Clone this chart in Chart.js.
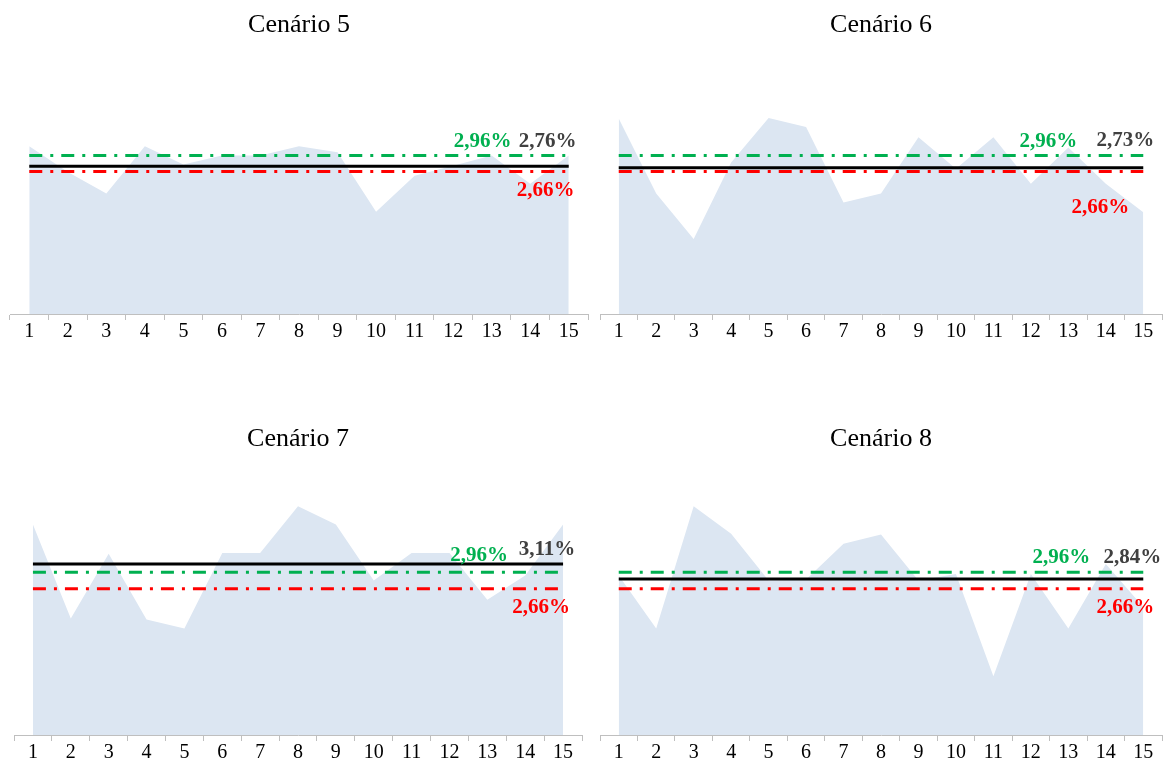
<!DOCTYPE html>
<html>
<head>
<meta charset="utf-8">
<script src="https://cdn.jsdelivr.net/npm/chart.js@4.4.1/dist/chart.umd.min.js"></script>
<style>
  body { margin: 0; background: #fff; width: 1169px; height: 763px; overflow: hidden; }
  .box { position: absolute; }
</style>
</head>
<body>
<div class="box" style="left:0px;top:0px;width:590px;height:344px"><canvas id="c5"></canvas></div>
<div class="box" style="left:590px;top:0px;width:579px;height:344px"><canvas id="c6"></canvas></div>
<div class="box" style="left:0px;top:414px;width:590px;height:351px"><canvas id="c7"></canvas></div>
<div class="box" style="left:590px;top:414px;width:579px;height:351px"><canvas id="c8"></canvas></div>
<script>
// categories (periods)
const periodos = ['1','2','3','4','5','6','7','8','9','10','11','12','13','14','15'];

// series values (%)
const cenario5 = [3.13, 2.65, 2.25, 3.13, 2.79, 2.96, 2.96, 3.13, 3.02, 1.91, 2.58, 2.77, 2.96, 2.43, 2.96];
const cenario6 = [3.65, 2.25, 1.40, 2.83, 3.66, 3.49, 2.08, 2.25, 3.30, 2.71, 3.30, 2.43, 3.11, 2.43, 1.90];
const cenario7 = [3.83, 2.12, 3.30, 2.10, 1.94, 3.31, 3.31, 4.16, 3.83, 2.81, 3.31, 3.31, 2.46, 2.90, 3.83];
const cenario8 = [2.90, 1.94, 4.16, 3.66, 2.81, 2.83, 3.48, 3.65, 2.81, 2.93, 1.07, 2.93, 1.94, 3.11, 2.33];

// reference lines
const meta = 2.96;
const limite = 2.66;
const medias = [2.76, 2.73, 3.11, 2.84];

const titulos = ['Cenário 5', 'Cenário 6', 'Cenário 7', 'Cenário 8'];

function fmt(v) {
  return v.toFixed(2).replace('.', ',') + '%';
}

function constante(v) {
  return periodos.map(function () { return v; });
}

// label offsets (px) from the last point of each line
const rotulos = [
  { meta: [-86, -14], media: [-21, -25], limite: [-23, 19] },
  { meta: [-95, -14], media: [-18, -27], limite: [-43, 36] },
  { meta: [-84, -17], media: [-16, -14], limite: [-22, 19] },
  { meta: [-82, -15], media: [-11, -21], limite: [-18, 19] }
];

const serif = '"Liberation Serif", "Times New Roman", serif';

const labelPlugin = {
  id: 'rotulos',
  afterDatasetsDraw(chart, args, opts) {
    const ctx = chart.ctx;
    const x = chart.scales.x;
    const y = chart.scales.y;
    const lastX = x.getPixelForValue(periodos.length - 1);
    ctx.save();
    ctx.font = 'bold 21px ' + serif;
    ctx.textAlign = 'center';
    ctx.textBaseline = 'middle';
    const itens = [
      [meta, '#00b050', opts.off.meta],
      [opts.media, '#404040', opts.off.media],
      [limite, '#ff0000', opts.off.limite]
    ];
    itens.forEach(function (it) {
      ctx.fillStyle = it[1];
      ctx.fillText(fmt(it[0]), lastX + it[2][0], y.getPixelForValue(it[0]) + it[2][1]);
    });
    ctx.restore();
  }
};

function desenha(id, serie, idx, pad) {
  new Chart(document.getElementById(id), {
    type: 'line',
    data: {
      labels: periodos,
      datasets: [
        {
          data: serie,
          fill: 'origin',
          backgroundColor: '#dce6f2',
          borderWidth: 0,
          pointRadius: 0,
          tension: 0,
          order: 4
        },
        {
          data: constante(limite),
          borderColor: '#ff0000',
          borderWidth: 3,
          borderDash: [13, 8, 3, 8],
          pointRadius: 0,
          fill: false,
          order: 3
        },
        {
          data: constante(meta),
          borderColor: '#00b050',
          borderWidth: 3,
          borderDash: [13, 8, 3, 8],
          pointRadius: 0,
          fill: false,
          order: 2
        },
        {
          data: constante(medias[idx]),
          borderColor: '#000000',
          borderWidth: 3,
          pointRadius: 0,
          fill: false,
          order: 1
        }
      ]
    },
    options: {
      responsive: true,
      maintainAspectRatio: false,
      animation: false,
      layout: { padding: pad },
      plugins: {
        legend: { display: false },
        tooltip: { enabled: false },
        title: {
          display: true,
          text: titulos[idx],
          color: '#000',
          font: { family: serif, size: 26, weight: 'normal' },
          padding: { top: 10, bottom: 5 }
        },
        rotulos: { media: medias[idx], off: rotulos[idx] }
      },
      scales: {
        x: {
          offset: true,
          grid: {
            offset: true,
            drawOnChartArea: false,
            drawTicks: true,
            tickLength: 6,
            color: '#bfbfbf'
          },
          border: { display: true, color: '#bfbfbf', width: 1 },
          ticks: {
            color: '#000',
            padding: 0,
            maxRotation: 0,
            autoSkip: false,
            font: { family: serif, size: 20 }
          }
        },
        y: {
          display: false,
          min: 0,
          max: 5
        }
      }
    },
    plugins: [labelPlugin]
  });
}

desenha('c5', cenario5, 0, { left: 10, right: 2, top: 0, bottom: 0 });
desenha('c6', cenario6, 1, { left: 10, right: 7, top: 0, bottom: 0 });
desenha('c7', cenario7, 2, { left: 14, right: 8, top: 0, bottom: 0 });
desenha('c8', cenario8, 3, { left: 10, right: 7, top: 0, bottom: 0 });
</script>
</body>
</html>
